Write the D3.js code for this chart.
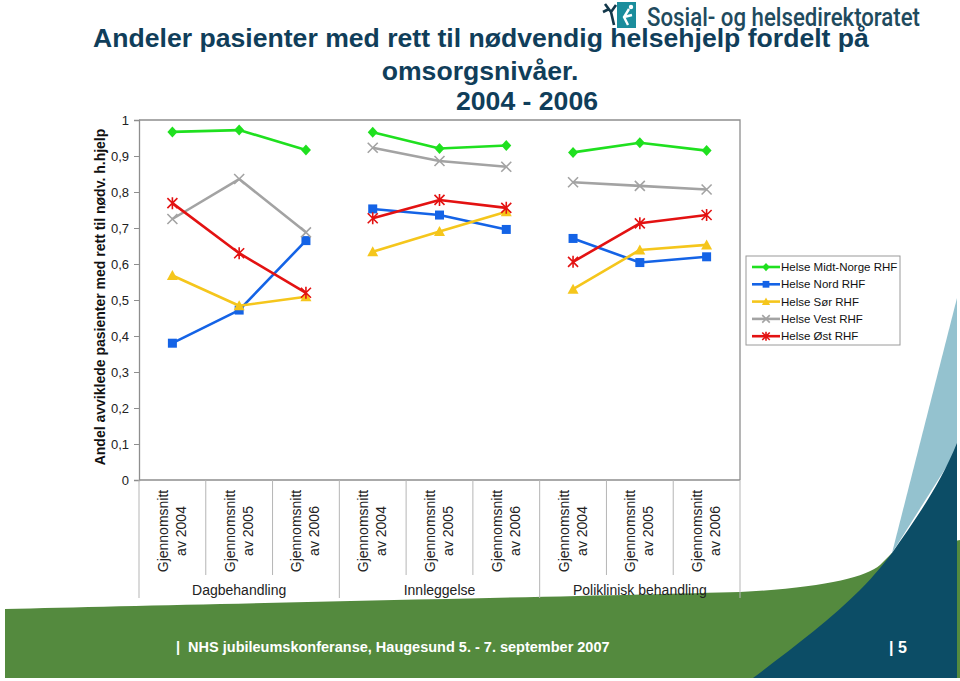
<!DOCTYPE html>
<html><head><meta charset="utf-8">
<script src="https://cdn.jsdelivr.net/npm/d3@7"></script>
<style>html,body{margin:0;padding:0;background:#fff;}svg{display:block;}</style>
</head><body>
<svg id="chart" width="960" height="681"></svg>
<script>
// ---------- data ----------
const categoryKeys = ["D2004","D2005","D2006","I2004","I2005","I2006","P2004","P2005","P2006"];
const categoryLine1 = ["Gjennomsnitt","Gjennomsnitt","Gjennomsnitt","Gjennomsnitt","Gjennomsnitt","Gjennomsnitt","Gjennomsnitt","Gjennomsnitt","Gjennomsnitt"];
const categoryLine2 = ["av 2004","av 2005","av 2006","av 2004","av 2005","av 2006","av 2004","av 2005","av 2006"];
const groups = ["Dagbehandling","Innleggelse","Poliklinisk behandling"];
const seriesNames = ["Helse Midt-Norge RHF","Helse Nord RHF","Helse Sør RHF","Helse Vest RHF","Helse Øst RHF"];
const midtNorge = [0.967, 0.972, 0.917, 0.966, 0.921, 0.929, 0.910, 0.937, 0.915];
const nord      = [0.380, 0.472, 0.665, 0.753, 0.736, 0.696, 0.671, 0.604, 0.620];
const sor       = [0.568, 0.484, 0.509, 0.634, 0.690, 0.745, 0.530, 0.639, 0.653];
const vest      = [0.725, 0.836, 0.688, 0.923, 0.886, 0.870, 0.827, 0.817, 0.807];
const ost       = [0.769, 0.630, 0.520, 0.727, 0.778, 0.756, 0.606, 0.713, 0.736];
const yTicks = [0,0.1,0.2,0.3,0.4,0.5,0.6,0.7,0.8,0.9,1];
const titleLines = ["Andeler pasienter med rett til nødvendig helsehjelp fordelt på","omsorgsnivåer.","2004 - 2006"];
const yTitle = "Andel avviklede pasienter med rett til nødv. h.hjelp";
const footerText = "|  NHS jubileumskonferanse, Haugesund 5. - 7. september 2007";
const pageNo = "| 5";
const logoText = "Sosial- og helsedirektoratet";

const seriesValues = [midtNorge, nord, sor, vest, ost];
const colors = ["#1fe01f","#1463e6","#f5c61c","#a3a3a3","#e31212"];
const shapes = ["diamond","square","triangle","x","star"];

const svg = d3.select("#chart");
const font = "Liberation Sans, Arial, sans-serif";

// ---------- background decoration ----------
const deco = svg.append("g");
deco.append("path").attr("fill","#548a3e")
  .attr("d","M5,609 C200,604 600,596 740,592 C820,588 865,578 880,565 L892,553 L960,540 L960,678 L5,678 Z");
deco.append("path").attr("fill","#94c2cf")
  .attr("d","M892,553 L957,298 L957,450 Z");
deco.append("path").attr("fill","#0c4d66")
  .attr("d","M753,678 C790,650 830,620 860,590 C875,575 885,562 892,553 C915,520 940,485 957,443 L957,678 Z");

// ---------- title ----------
const title = svg.append("g").attr("font-family",font).attr("font-weight","bold")
  .attr("fill","#103e5a").attr("font-size",26.6).attr("text-anchor","middle");
title.append("text").attr("x",481).attr("y",47).text(titleLines[0]);
title.append("text").attr("x",480).attr("y",80).text(titleLines[1]);
title.append("text").attr("x",527).attr("y",110).text(titleLines[2]);

// ---------- logo ----------
const logo = svg.append("g");
logo.append("rect").attr("x",617).attr("y",2).attr("width",19).attr("height",26).attr("fill","#1b8d9c");
logo.append("path").attr("fill","none").attr("stroke","#fff").attr("stroke-width",2.4)
  .attr("d","M629,9 L624,17 L628,25 M624,17 L632,15");
logo.append("circle").attr("cx",631).attr("cy",7).attr("r",2.2).attr("fill","#fff");
logo.append("path").attr("fill","none").attr("stroke","#12374a").attr("stroke-width",2.6)
  .attr("d","M605,4 L611,12 L614,25 M611,12 L616,5 M609,9 L603,12");
logo.append("text").attr("x",647).attr("y",26).attr("font-family","Roboto, sans-serif").attr("font-weight",500)
  .attr("font-size",26).attr("fill","#1f4b5e").attr("textLength",273).attr("lengthAdjust","spacingAndGlyphs")
  .text(logoText);

// ---------- scales ----------
const plot = {left:139, right:740, top:120, bottom:480};
const x = d3.scaleBand().domain(categoryKeys).range([plot.left, plot.right]);
const y = d3.scaleLinear().domain([0,1]).range([plot.bottom, plot.top]);
const cx = k => x(k) + x.bandwidth()/2;

// ---------- axes ----------
const axisColor = "#8e8e8e";
const yAxis = d3.axisLeft(y).tickValues(yTicks).tickSize(5).tickPadding(5)
  .tickFormat(d => d === 0 ? "0" : d === 1 ? "1" : d3.format(".1f")(d).replace(".", ","));
const yg = svg.append("g").attr("transform",`translate(${plot.left},0)`).call(yAxis);
yg.select(".domain").attr("stroke",axisColor).attr("stroke-width",1.3);
yg.selectAll(".tick line").attr("stroke",axisColor);
yg.selectAll(".tick text").attr("font-family",font).attr("font-size",13).attr("fill","#222");

// plot border top & right
svg.append("path").attr("fill","none").attr("stroke",axisColor).attr("stroke-width",1.3)
  .attr("d",`M${plot.left},${plot.top} H${plot.right} V${plot.bottom}`);

// x axis baseline
svg.append("line").attr("x1",plot.left).attr("x2",plot.right).attr("y1",plot.bottom).attr("y2",plot.bottom)
  .attr("stroke",axisColor).attr("stroke-width",1.3);

// category separators
const boundaries = d3.range(categoryKeys.length + 1);
svg.append("g").selectAll("line").data(boundaries).join("line")
  .attr("x1", i => i < categoryKeys.length ? x(categoryKeys[i]) : plot.right)
  .attr("x2", i => i < categoryKeys.length ? x(categoryKeys[i]) : plot.right)
  .attr("y1", plot.bottom)
  .attr("y2", i => i % 3 === 0 ? 598 : 575)
  .attr("stroke","#b5b5b5").attr("stroke-width",1);

// category labels
const catG = svg.append("g").attr("font-family",font).attr("font-size",14).attr("fill","#222");
categoryKeys.forEach((k,i) => {
  const g = catG.append("g").attr("transform",`translate(${cx(k)},531) rotate(-90)`);
  g.append("text").attr("text-anchor","middle").attr("y",-4.5).text(categoryLine1[i]);
  g.append("text").attr("text-anchor","middle").attr("y",13.5).text(categoryLine2[i]);
});
// group labels
groups.forEach((gname,gi) => {
  const x0 = x(categoryKeys[gi*3]), x1 = x(categoryKeys[gi*3+2]) + x.bandwidth();
  catG.append("text").attr("x",(x0+x1)/2).attr("y",595).attr("text-anchor","middle").text(gname);
});

// y title
svg.append("text").attr("transform","translate(105,297) rotate(-90)")
  .attr("text-anchor","middle").attr("font-family",font).attr("font-weight","bold")
  .attr("font-size",14).attr("fill","#111").text(yTitle);

// ---------- markers ----------
function drawMarker(g, shape, px, py, color, s) {
  s = s || 1;
  if (shape === "diamond") {
    g.append("path").attr("d",`M${px},${py-5.5*s} L${px+5*s},${py} L${px},${py+5.5*s} L${px-5*s},${py} Z`).attr("fill",color);
  } else if (shape === "square") {
    g.append("rect").attr("x",px-4.5*s).attr("y",py-4.5*s).attr("width",9*s).attr("height",9*s).attr("fill",color);
  } else if (shape === "triangle") {
    g.append("path").attr("d",`M${px},${py-5.5*s} L${px+5.5*s},${py+4.5*s} L${px-5.5*s},${py+4.5*s} Z`).attr("fill",color);
  } else if (shape === "x") {
    g.append("path").attr("d",`M${px-5*s},${py-5*s} L${px+5*s},${py+5*s} M${px+5*s},${py-5*s} L${px-5*s},${py+5*s}`)
      .attr("stroke",color).attr("stroke-width",1.6).attr("fill","none");
  } else if (shape === "star") {
    g.append("path").attr("d",`M${px-5*s},${py-5*s} L${px+5*s},${py+5*s} M${px+5*s},${py-5*s} L${px-5*s},${py+5*s} M${px},${py-6*s} L${px},${py+6*s}`)
      .attr("stroke",color).attr("stroke-width",1.6).attr("fill","none");
  }
}

// ---------- series ----------
const line = d3.line().x(d => cx(d.k)).y(d => y(d.v));
const seriesG = svg.append("g");
seriesValues.forEach((vals, si) => {
  const g = seriesG.append("g");
  groups.forEach((_, gi) => {
    const pts = d3.range(gi*3, gi*3+3).map(i => ({k: categoryKeys[i], v: vals[i]}));
    g.append("path").datum(pts).attr("d", line).attr("fill","none")
      .attr("stroke", colors[si]).attr("stroke-width", 2.6).attr("stroke-linejoin","round");
  });
  vals.forEach((v,i) => drawMarker(g, shapes[si], cx(categoryKeys[i]), y(v), colors[si]));
});

// ---------- legend ----------
const lg = svg.append("g").attr("transform","translate(746,256)");
lg.append("rect").attr("width",154).attr("height",89).attr("fill","#fff").attr("stroke","#9a9a9a").attr("stroke-width",1);
seriesNames.forEach((name, i) => {
  const yy = 11 + i*17.3;
  lg.append("line").attr("x1",6).attr("x2",34).attr("y1",yy).attr("y2",yy).attr("stroke",colors[i]).attr("stroke-width",2.6);
  drawMarker(lg, shapes[i], 20, yy, colors[i], 0.75);
  lg.append("text").attr("x",35).attr("y",yy+4).attr("font-family",font).attr("font-size",11.5).attr("fill","#111").text(name);
});

// ---------- footer ----------
svg.append("text").attr("x",176).attr("y",652).attr("font-family",font).attr("font-weight","bold")
  .attr("font-size",14.5).attr("fill","#fff").style("white-space","pre").text(footerText);
svg.append("text").attr("x",889).attr("y",653).attr("font-family",font).attr("font-weight","bold")
  .attr("font-size",16).attr("fill","#fff").text(pageNo);
</script>
</body></html>
